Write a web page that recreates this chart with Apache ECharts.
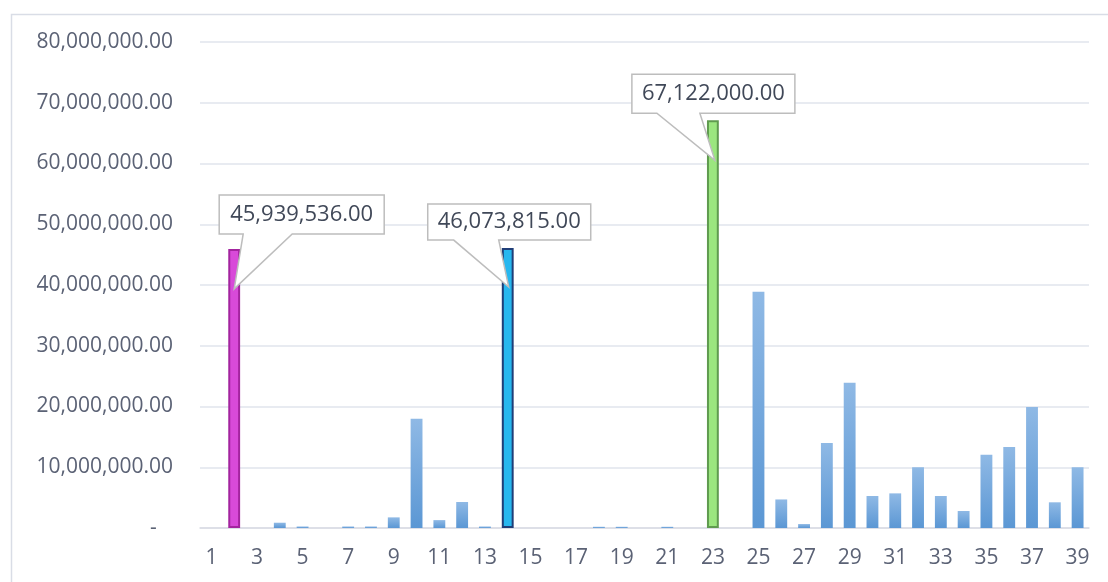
<!DOCTYPE html>
<html>
<head>
<meta charset="utf-8">
<script src="https://cdn.jsdelivr.net/npm/echarts@6/dist/echarts.min.js"></script>
<style>
html,body{margin:0;padding:0;background:#fff;}
#chart{width:1108px;height:582px;}
</style>
</head>
<body>
<div id="chart"></div>
<script>
// ---- data ----
const categories = ['1','2','3','4','5','6','7','8','9','10','11','12','13','14','15','16','17','18','19','20',
  '21','22','23','24','25','26','27','28','29','30','31','32','33','34','35','36','37','38','39'];
const values = [0, 45939536, 0, 870000, 250000, 0, 250000, 250000, 1750000, 18000000,
  1300000, 4280000, 250000, 46073815, 0, 0, 0, 200000, 200000, 0,
  200000, 0, 67122000, 0, 38900000, 4700000, 650000, 14000000, 23900000, 5270000,
  5700000, 10000000, 5270000, 2800000, 12070000, 13330000, 19900000, 4230000, 10000000];
const yTicks = [0, 10000000, 20000000, 30000000, 40000000, 50000000, 60000000, 70000000, 80000000];
const calloutCategories = ['2', '14', '23'];

// ---- styles / layout ----
const highlight = {
  '2':  { fill: '#d84ad9', border: '#a3249f' },
  '14': { fill: '#27b7ef', border: '#1f3e78' },
  '23': { fill: '#9be67f', border: '#5f9b4f' }
};
const calloutLayout = {
  '2':  { l: -15, r: 150, t: -54, b: -15, bl: 9,   br: 58,  tx: 0, ty: 40 },
  '14': { l: -80, r: 83,  t: -44, b: -8,  bl: -54, br: -9,  tx: 1, ty: 39 },
  '23': { l: -81, r: 82,  t: -46, b: -7,  bl: -56, br: -13, tx: 2, ty: 40 }
};
const fmt = v => v.toLocaleString('en-US', { minimumFractionDigits: 2, maximumFractionDigits: 2 });

const blueGrad = new echarts.graphic.LinearGradient(0, 0, 0, 1, [
  { offset: 0, color: '#8fb9e5' },
  { offset: 1, color: '#5b97d4' }
]);

const barData = values.map((v, i) => {
  const h = highlight[categories[i]];
  if (!v) return null;
  if (h) return { value: v, itemStyle: { color: h.fill, borderColor: h.border, borderWidth: 2 } };
  return { value: v, itemStyle: { color: blueGrad } };
});

const calloutData = calloutCategories.map(c => {
  const i = categories.indexOf(c);
  return [i, values[i], c];
});

const chart = echarts.init(document.getElementById('chart'));
chart.setOption({
  animation: false,
  backgroundColor: '#ffffff',
  graphic: [{
    type: 'rect', left: 9, top: 12, silent: true,
    shape: { width: 1200, height: 700 },
    style: { fill: 'none', stroke: '#d9dde6', lineWidth: 1.5 }
  }],
  grid: { left: 200, right: 19, top: 42, bottom: 54 },
  xAxis: {
    type: 'category',
    data: categories,
    axisTick: { show: false },
    axisLine: { lineStyle: { color: '#d9dce3', width: 1.5 } },
    axisLabel: {
      interval: 1, margin: 20,
      color: '#5b6275', fontSize: 21, fontFamily: 'Open Sans'
    }
  },
  yAxis: {
    type: 'value',
    min: yTicks[0], max: yTicks[yTicks.length - 1],
    interval: yTicks[1] - yTicks[0],
    axisLine: { show: false },
    axisTick: { show: false },
    splitLine: { lineStyle: { color: '#e1e4ec', width: 1.5 } },
    axisLabel: {
      margin: 27,
      color: '#5b6275', fontSize: 21, fontFamily: 'Open Sans',
      formatter: v => v === 0 ? '-   ' : fmt(v)
    }
  },
  series: [{
    type: 'bar',
    data: barData,
    barWidth: '52%',
    z: 2
  }, {
    type: 'custom',
    data: calloutData,
    encode: { x: 0, y: 1 },
    z: 5,
    clip: false,
    renderItem: (params, api) => {
      const p = api.coord([api.value(0), api.value(1)]);
      const cat = calloutData[params.dataIndex][2];
      const o = calloutLayout[cat];
      const cx = p[0], top = p[1];
      const L = cx + o.l, R = cx + o.r, T = top + o.t, B = top + o.b;
      const pts = [[L, T], [R, T], [R, B], [cx + o.br, B], [cx + o.tx, top + o.ty], [cx + o.bl, B], [L, B]];
      return {
        type: 'group',
        children: [{
          type: 'polygon',
          shape: { points: pts },
          style: { fill: '#ffffff', stroke: '#bdbdbd', lineWidth: 1.5 }
        }, {
          type: 'text',
          style: {
            x: (L + R) / 2, y: (T + B) / 2,
            text: fmt(api.value(1)),
            align: 'center', verticalAlign: 'middle',
            fill: '#404858', fontSize: 22, fontFamily: 'Open Sans'
          }
        }]
      };
    }
  }]
});
</script>
</body>
</html>
